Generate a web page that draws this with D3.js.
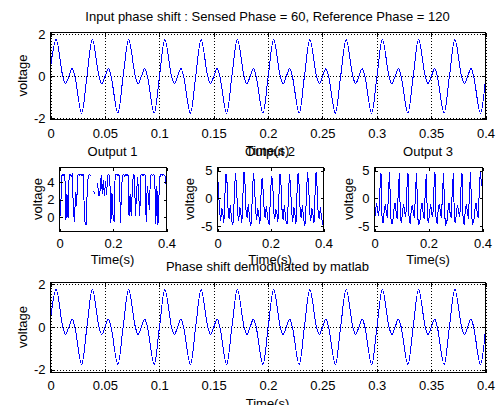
<!DOCTYPE html>
<html>
<head>
<meta charset="utf-8">
<script src="https://cdn.jsdelivr.net/npm/d3@7"></script>
<style>
  body { margin: 0; background: #fff; }
  svg { display: block; }
  text { font-family: "Liberation Sans", Arial, Helvetica, sans-serif; font-size: 13px; fill: #000; }
</style>
</head>
<body>
<div id="figure"></div>
<script>
// Input signal: peaks, dips and zero crossings [time (s), voltage]
const inputSignal = [
  [0, 0.38],
  [0.0052, 1.76], [0.0113, 0], [0.0139, -0.35], [0.0169, 0], [0.0199, 0.37], [0.0224, 0], [0.0286, -1.76], [0.0335, 0],
  [0.0385, 1.76], [0.0446, 0], [0.0472, -0.35], [0.0502, 0], [0.0532, 0.37], [0.0557, 0], [0.0619, -1.76], [0.0668, 0],
  [0.0719, 1.76], [0.0780, 0], [0.0806, -0.35], [0.0836, 0], [0.0866, 0.37], [0.0891, 0], [0.0953, -1.76], [0.1002, 0],
  [0.1052, 1.76], [0.1113, 0], [0.1139, -0.35], [0.1169, 0], [0.1199, 0.37], [0.1224, 0], [0.1286, -1.76], [0.1335, 0],
  [0.1385, 1.76], [0.1446, 0], [0.1472, -0.35], [0.1502, 0], [0.1532, 0.37], [0.1557, 0], [0.1619, -1.76], [0.1668, 0],
  [0.1719, 1.76], [0.1780, 0], [0.1806, -0.35], [0.1836, 0], [0.1866, 0.37], [0.1891, 0], [0.1953, -1.76], [0.2002, 0],
  [0.2052, 1.76], [0.2113, 0], [0.2139, -0.35], [0.2169, 0], [0.2199, 0.37], [0.2224, 0], [0.2286, -1.76], [0.2335, 0],
  [0.2385, 1.76], [0.2446, 0], [0.2472, -0.35], [0.2502, 0], [0.2532, 0.37], [0.2557, 0], [0.2619, -1.76], [0.2668, 0],
  [0.2719, 1.76], [0.2780, 0], [0.2806, -0.35], [0.2836, 0], [0.2866, 0.37], [0.2891, 0], [0.2953, -1.76], [0.3002, 0],
  [0.3052, 1.76], [0.3113, 0], [0.3139, -0.35], [0.3169, 0], [0.3199, 0.37], [0.3224, 0], [0.3286, -1.76], [0.3335, 0],
  [0.3385, 1.76], [0.3446, 0], [0.3472, -0.35], [0.3502, 0], [0.3532, 0.37], [0.3557, 0], [0.3619, -1.76], [0.3668, 0],
  [0.3719, 1.76], [0.3780, 0], [0.3806, -0.35], [0.3836, 0], [0.3866, 0.37], [0.3891, 0], [0.3953, -1.76], [0.4, -0.11]
];
// the demodulated phase in the bottom panel draws the same curve
const demodSignal = inputSignal;

// coupler outputs, one sample every 4 ms from 0 to 0.4 s (null = gap in the trace)
const sampleStep = 0.004;
const output1 = [
  2.5, 0.2, 4.7, 4.9, 4.8, 4.9, -0.3, 2.6, -0.1, 4.8,
  4.9, 4.7, 4.9, 0.6, -0.5, 2.9, 1.3, 4.8, 4.9, 4.8,
  4.9, 4.7, 4.9, 1.6, -0.9, -0.8, 3.6, 4.8, 4.9, 4.7,
  null, null, 3.0, 2.7, null, 3.9, 3.3, 2.4, 3.1, 4.8,
  2.7, 4.3, 2.4, 4.1, 2.6, 4.8, 4.9, 4.7, -0.7, 2.8,
  0.3, -0.5, 4.8, 4.9, 4.8, 4.9, 4.7, -0.6, 3.4, 4.8,
  4.9, 4.7, 4.9, 4.8, 4.9, 0.1, 2.6, 0.2, 3.0, 4.9,
  4.8, 0.2, 2.7, 4.6, 2.6, 0.1, 4.8, 4.9, 4.7, 4.9,
  4.8, -0.5, 3.6, 2.4, 0.8, 4.8, 4.9, 4.8, 4.9, 4.7,
  -0.8, 3.6, -0.9, 2.5, 4.8, 4.9, 4.8, 4.9, 4.8, 4.7,
  3.1
];
const output2 = [
  4.3, 1.5, -2.5, -4.0, -1.8, -2.6, -4.5, 0.6,
  4.4, 2.8, -2.2, -3.7, -1.2, -3.1, -4.7, -4.3, 1.4,
  4.6, 1.9, -2.8, -4.1, -1.5, -2.7, -4.4, 0.8,
  4.7, 2.5, -2.6, -3.5, -1.1, -2.9, -4.8, -4.4, 1.6,
  4.6, 2.0, -2.4, -3.9, -1.7, -3.2, -4.6, 0.5,
  3.6, 1.6, -2.0, -3.6, -1.4, -2.8, -4.5, -4.7, 1.0,
  4.0, 3.3, -2.3, -3.8, -1.9, -2.6, -4.3, 0.7,
  4.4, 2.2, -2.7, -3.9, -1.3, -3.0, -4.6, -4.5, 1.2,
  4.4, 1.7, -2.5, -4.2, -1.6, -2.7, -4.7, 0.9,
  4.6, 2.4, -2.3, -3.6, -1.2, -3.1, -4.8, -4.4, 1.5,
  4.7, 2.1, -2.6, -4.0, -1.8, -2.9, -4.5, 0.6,
  4.8, 1.8, -2.9, -3.8, -1.6, -3.3, -4.4, -5.0
];
const output3 = [
  -4.3, -2.1, -0.9, -2.4, -3.2, 1.6,
  4.6, -3.6, -4.5, -2.2, -1.1, -2.6, -3.5, 1.4,
  4.7, -3.3, -4.7, -4.1, -2.0, -0.8, -2.4, -3.7, 1.2,
  4.5, -3.8, -4.4, -2.3, -1.0, -2.7, -3.4, 1.7,
  4.6, -3.5, -4.6, -2.1, -1.2, -2.5, -3.6, 1.5,
  4.6, -3.4, -4.8, -4.2, -2.1, -0.9, -2.6, -3.8, 1.1,
  4.4, -3.7, -4.5, -2.4, -1.1, -2.8, -3.3, 1.6,
  4.7, -3.6, -4.6, -2.0, -1.0, -2.5, -3.6, 1.3,
  4.6, -3.2, -4.7, -4.3, -2.2, -0.8, -2.7, -3.5, 1.2,
  4.5, -3.9, -4.4, -2.1, -1.3, -2.6, -3.4, 1.8,
  4.6, -3.5, -4.8, -2.3, -1.0, -2.4, -3.7, 1.4,
  4.7, -3.4, -4.6, -4.1, -2.0, -0.9, -2.5, -3.6, 1.2,
  4.8, 2.8, 1.9
];

// ticks
const wideTimeTicks = [0, 0.05, 0.1, 0.15, 0.2, 0.25, 0.3, 0.35, 0.4];
const wideTimeLabels = ["0", "0.05", "0.1", "0.15", "0.2", "0.25", "0.3", "0.35", "0.4"];
const smallTimeTicks = [0, 0.2, 0.4];
const smallTimeLabels = ["0", "0.2", "0.4"];
const phaseTicks = [-2, 0, 2];
const phaseLabels = ["-2", "0", "2"];
const out1Ticks = [0, 2, 4];
const out1Labels = ["0", "2", "4"];
const out23Ticks = [-5, 0, 5];
const out23Labels = ["-5", "0", "5"];

const width = 497;
const height = 405;

// subplot layout (pixel box edges measured on the figure)
const panels = [
  { title: "Input phase shift : Sensed Phase = 60, Reference Phase = 120",
    left: 50, right: 485, top: 32, bottom: 119, yDomain: [-2.06, 2.09],
    xTicks: wideTimeTicks, xLabels: wideTimeLabels, yTicks: phaseTicks, yLabels: phaseLabels,
    tickLen: 4, grid: true, tickPad: 8.8, xlabelY: 154.5, ylabelX: 26.5, points: inputSignal },
  { title: "Output 1",
    left: 59, right: 166, top: 167, bottom: 231, yDomain: [-1.63, 5.69],
    xTicks: smallTimeTicks, xLabels: smallTimeLabels, yTicks: out1Ticks, yLabels: out1Labels,
    tickLen: 3, grid: false, tickPad: 7.4, xlabelY: 263.7, ylabelX: 41.5, samples: output1 },
  { title: "Output 2",
    left: 217, right: 323, top: 167, bottom: 231, yDomain: [-5.98, 5.55],
    xTicks: smallTimeTicks, xLabels: smallTimeLabels, yTicks: out23Ticks, yLabels: out23Labels,
    tickLen: 3, grid: false, tickPad: 7.4, xlabelY: 263.7, ylabelX: 193.5, samples: output2 },
  { title: "Output 3",
    left: 374, right: 482, top: 167, bottom: 231, yDomain: [-5.98, 5.55],
    xTicks: smallTimeTicks, xLabels: smallTimeLabels, yTicks: out23Ticks, yLabels: out23Labels,
    tickLen: 3, grid: false, tickPad: 7.4, xlabelY: 263.7, ylabelX: 352.5, samples: output3 },
  { title: "Phase shift demodulated by matlab",
    left: 50, right: 485, top: 282, bottom: 372, yDomain: [-2.13, 2.08],
    xTicks: wideTimeTicks, xLabels: wideTimeLabels, yTicks: phaseTicks, yLabels: phaseLabels,
    tickLen: 4, grid: true, tickPad: 8.0, xlabelY: 407.5, ylabelX: 26.5, points: demodSignal }
];

const svg = d3.select("#figure")
  .append("svg")
  .attr("width", width)
  .attr("height", height)
  .attr("viewBox", `0 0 ${width} ${height}`);

svg.append("rect")
  .attr("width", width)
  .attr("height", height)
  .attr("fill", "#fff");

function drawPanel(p) {
  const w = p.right - p.left;
  const h = p.bottom - p.top;
  const x = d3.scaleLinear().domain([0, 0.4]).range([p.left + 0.5, p.right + 0.5]);
  const y = d3.scaleLinear().domain(p.yDomain).range([p.bottom + 0.5, p.top + 0.5]);
  const g = svg.append("g");

  // dotted grid under the trace
  if (p.grid) {
    g.append("g")
      .attr("transform", `translate(0,${p.bottom + 0.5})`)
      .call(d3.axisBottom(x).tickValues(p.xTicks).tickSize(-h).tickFormat(""))
      .call(s => s.select(".domain").remove());
    g.append("g")
      .attr("transform", `translate(${p.left + 0.5},0)`)
      .call(d3.axisLeft(y).tickValues(p.yTicks).tickSize(-w).tickFormat(""))
      .call(s => s.select(".domain").remove());
    g.selectAll("line")
      .attr("stroke", "#000")
      .attr("stroke-dasharray", "1,2")
      .attr("shape-rendering", "crispEdges");
  }

  // trace
  let line;
  let data;
  if (p.points) {
    data = p.points;
    line = d3.line()
      .x(d => x(d[0]))
      .y(d => y(d[1]))
      .curve(d3.curveCatmullRom);
  } else {
    data = p.samples;
    line = d3.line()
      .defined(d => d !== null)
      .x((d, i) => x(i * sampleStep))
      .y(d => y(d));
  }
  g.append("path")
    .attr("d", line(data))
    .attr("fill", "none")
    .attr("stroke", "#0000ff")
    .attr("stroke-width", 1)
    .attr("shape-rendering", "crispEdges");

  // box
  g.append("rect")
    .attr("x", p.left + 0.5)
    .attr("y", p.top + 0.5)
    .attr("width", w)
    .attr("height", h)
    .attr("fill", "none")
    .attr("stroke", "#000")
    .attr("shape-rendering", "crispEdges");

  // inward ticks on all four sides, labels bottom and left
  const axes = [
    { axis: d3.axisBottom(x).tickValues(p.xTicks).tickFormat((d, i) => p.xLabels[i]).tickPadding(p.tickPad), tr: `translate(0,${p.bottom + 0.5})` },
    { axis: d3.axisTop(x).tickValues(p.xTicks).tickFormat(""), tr: `translate(0,${p.top + 0.5})` },
    { axis: d3.axisLeft(y).tickValues(p.yTicks).tickFormat((d, i) => p.yLabels[i]).tickPadding(5), tr: `translate(${p.left + 0.5},0)` },
    { axis: d3.axisRight(y).tickValues(p.yTicks).tickFormat(""), tr: `translate(${p.right + 0.5},0)` }
  ];
  axes.forEach(a => {
    g.append("g")
      .attr("transform", a.tr)
      .call(a.axis.tickSizeInner(-p.tickLen).tickSizeOuter(0))
      .call(s => s.select(".domain").remove())
      .call(s => s.selectAll("line").attr("shape-rendering", "crispEdges"));
  });

  // title and axis labels
  const cx = p.left + w / 2;
  g.append("text")
    .attr("x", cx)
    .attr("y", p.top - 11)
    .attr("text-anchor", "middle")
    .text(p.title);

  g.append("text")
    .attr("x", cx)
    .attr("y", p.xlabelY)
    .attr("text-anchor", "middle")
    .text("Time(s)");

  g.append("text")
    .attr("transform", `translate(${p.ylabelX},${p.top + h / 2}) rotate(-90)`)
    .attr("text-anchor", "middle")
    .text("voltage");
}

panels.forEach(drawPanel);
</script>
</body>
</html>
